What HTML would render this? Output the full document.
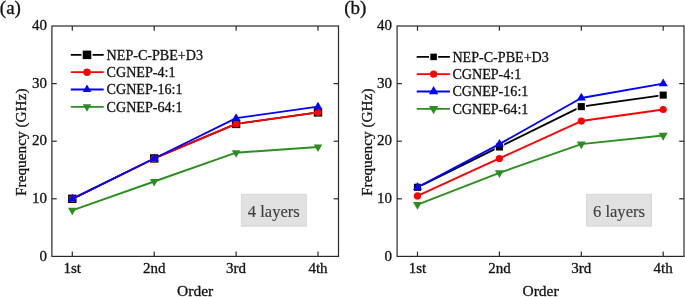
<!DOCTYPE html>
<html><head><meta charset="utf-8"><style>
html,body{margin:0;padding:0;background:#fff;width:685px;height:297px;overflow:hidden}
svg{display:block;will-change:transform}
text{font-family:"Liberation Serif", serif;stroke:#111;stroke-width:0.3px}
</style></head><body>
<svg width="685" height="297" viewBox="0 0 685 297" fill="#111">
<rect width="685" height="297" fill="#fff"/>
<polyline points="72.30,198.80 154.20,158.48 236.10,123.92 318.00,112.40" fill="none" stroke="#000" stroke-width="1.9" stroke-linejoin="round"/>
<rect x="66.90" y="193.40" width="10.80" height="10.80" fill="#fff"/><rect x="68.10" y="194.60" width="8.40" height="8.40" fill="#000"/>
<rect x="148.80" y="153.08" width="10.80" height="10.80" fill="#fff"/><rect x="150.00" y="154.28" width="8.40" height="8.40" fill="#000"/>
<rect x="230.70" y="118.52" width="10.80" height="10.80" fill="#fff"/><rect x="231.90" y="119.72" width="8.40" height="8.40" fill="#000"/>
<rect x="312.60" y="107.00" width="10.80" height="10.80" fill="#fff"/><rect x="313.80" y="108.20" width="8.40" height="8.40" fill="#000"/>
<polyline points="72.30,198.80 154.20,158.48 236.10,123.92 318.00,112.40" fill="none" stroke="#ff0000" stroke-width="1.9" stroke-linejoin="round"/>
<circle cx="72.30" cy="198.80" r="3.5" fill="#ff0000"/>
<circle cx="154.20" cy="158.48" r="3.5" fill="#ff0000"/>
<circle cx="236.10" cy="123.92" r="3.5" fill="#ff0000"/>
<circle cx="318.00" cy="112.40" r="3.5" fill="#ff0000"/>
<polyline points="72.30,198.80 154.20,158.48 236.10,118.16 318.00,106.64" fill="none" stroke="#0000ff" stroke-width="1.9" stroke-linejoin="round"/>
<polygon points="72.30,193.80 76.63,201.30 67.97,201.30" fill="#0000ff"/>
<polygon points="154.20,153.48 158.53,160.98 149.87,160.98" fill="#0000ff"/>
<polygon points="236.10,113.16 240.43,120.66 231.77,120.66" fill="#0000ff"/>
<polygon points="318.00,101.64 322.33,109.14 313.67,109.14" fill="#0000ff"/>
<polyline points="72.30,210.32 154.20,181.52 236.10,152.72 318.00,146.96" fill="none" stroke="#2b8f1f" stroke-width="1.9" stroke-linejoin="round"/>
<polygon points="72.30,215.32 76.63,207.82 67.97,207.82" fill="#2b8f1f"/>
<polygon points="154.20,186.52 158.53,179.02 149.87,179.02" fill="#2b8f1f"/>
<polygon points="236.10,157.72 240.43,150.22 231.77,150.22" fill="#2b8f1f"/>
<polygon points="318.00,151.96 322.33,144.46 313.67,144.46" fill="#2b8f1f"/>
<rect x="51.90" y="26.00" width="286.60" height="230.40" fill="none" stroke="#282828" stroke-width="1.2"/>
<line x1="72.30" y1="256.40" x2="72.30" y2="251.60" stroke="#282828" stroke-width="1.2"/>
<line x1="72.30" y1="26.00" x2="72.30" y2="30.80" stroke="#282828" stroke-width="1.2"/>
<line x1="154.20" y1="256.40" x2="154.20" y2="251.60" stroke="#282828" stroke-width="1.2"/>
<line x1="154.20" y1="26.00" x2="154.20" y2="30.80" stroke="#282828" stroke-width="1.2"/>
<line x1="236.10" y1="256.40" x2="236.10" y2="251.60" stroke="#282828" stroke-width="1.2"/>
<line x1="236.10" y1="26.00" x2="236.10" y2="30.80" stroke="#282828" stroke-width="1.2"/>
<line x1="318.00" y1="256.40" x2="318.00" y2="251.60" stroke="#282828" stroke-width="1.2"/>
<line x1="318.00" y1="26.00" x2="318.00" y2="30.80" stroke="#282828" stroke-width="1.2"/>
<line x1="51.90" y1="198.80" x2="56.70" y2="198.80" stroke="#282828" stroke-width="1.2"/>
<line x1="338.50" y1="198.80" x2="333.70" y2="198.80" stroke="#282828" stroke-width="1.2"/>
<line x1="51.90" y1="141.20" x2="56.70" y2="141.20" stroke="#282828" stroke-width="1.2"/>
<line x1="338.50" y1="141.20" x2="333.70" y2="141.20" stroke="#282828" stroke-width="1.2"/>
<line x1="51.90" y1="83.60" x2="56.70" y2="83.60" stroke="#282828" stroke-width="1.2"/>
<line x1="338.50" y1="83.60" x2="333.70" y2="83.60" stroke="#282828" stroke-width="1.2"/>
<text x="46.90" y="260.60" text-anchor="end" font-size="15">0</text>
<text x="46.90" y="203.00" text-anchor="end" font-size="15">10</text>
<text x="46.90" y="145.40" text-anchor="end" font-size="15">20</text>
<text x="46.90" y="87.80" text-anchor="end" font-size="15">30</text>
<text x="46.90" y="30.20" text-anchor="end" font-size="15">40</text>
<text x="72.30" y="272.5" text-anchor="middle" font-size="15">1st</text>
<text x="154.20" y="272.5" text-anchor="middle" font-size="15">2nd</text>
<text x="236.10" y="272.5" text-anchor="middle" font-size="15">3rd</text>
<text x="318.00" y="272.5" text-anchor="middle" font-size="15">4th</text>
<text x="195.20" y="296.3" text-anchor="middle" font-size="15.5">Order</text>
<text transform="translate(26.30,142.20) rotate(-90)" text-anchor="middle" font-size="15.3">Frequency (GHz)</text>
<text x="-0.20" y="13.7" font-size="19">(a)</text>
<line x1="70.80" y1="54.85" x2="103.70" y2="54.85" stroke="#000" stroke-width="1.8"/>
<rect x="81.45" y="49.30" width="11.10" height="11.10" fill="#fff"/><rect x="82.75" y="50.60" width="8.50" height="8.50" fill="#000"/>
<text x="106.60" y="59.75" font-size="14.1">NEP-C-PBE+D3</text>
<line x1="70.80" y1="72.17" x2="103.70" y2="72.17" stroke="#ff0000" stroke-width="1.8"/>
<circle cx="87.00" cy="72.17" r="3.75" fill="#ff0000"/>
<text x="106.60" y="77.07" font-size="14.1">CGNEP-4:1</text>
<line x1="70.80" y1="89.49" x2="103.70" y2="89.49" stroke="#0000ff" stroke-width="1.8"/>
<polygon points="87.00,84.59 91.24,91.94 82.76,91.94" fill="#0000ff"/>
<text x="106.60" y="94.39" font-size="14.1">CGNEP-16:1</text>
<line x1="70.80" y1="106.81" x2="103.70" y2="106.81" stroke="#2b8f1f" stroke-width="1.8"/>
<polygon points="87.00,111.71 91.24,104.36 82.76,104.36" fill="#2b8f1f"/>
<text x="106.60" y="111.71" font-size="14.1">CGNEP-64:1</text>
<rect x="241.40" y="194.3" width="64.9" height="31.9" fill="#e0e1e0" stroke="#d7d8d7" stroke-width="1"/>
<text x="273.80" y="216.9" text-anchor="middle" font-size="16.6" fill="#404040" style="stroke:#404040;stroke-width:0.15px">4 layers</text>
<polyline points="417.50,187.28 499.40,146.96 581.30,106.64 663.20,95.12" fill="none" stroke="#000" stroke-width="1.9" stroke-linejoin="round"/>
<rect x="412.75" y="182.53" width="9.50" height="9.50" fill="#fff"/><rect x="413.95" y="183.73" width="7.10" height="7.10" fill="#000"/>
<rect x="494.65" y="142.21" width="9.50" height="9.50" fill="#fff"/><rect x="495.85" y="143.41" width="7.10" height="7.10" fill="#000"/>
<rect x="576.55" y="101.89" width="9.50" height="9.50" fill="#fff"/><rect x="577.75" y="103.09" width="7.10" height="7.10" fill="#000"/>
<rect x="658.45" y="90.37" width="9.50" height="9.50" fill="#fff"/><rect x="659.65" y="91.57" width="7.10" height="7.10" fill="#000"/>
<polyline points="417.50,195.92 499.40,158.48 581.30,121.04 663.20,109.52" fill="none" stroke="#ff0000" stroke-width="1.9" stroke-linejoin="round"/>
<circle cx="417.50" cy="195.92" r="3.6" fill="#ff0000"/>
<circle cx="499.40" cy="158.48" r="3.6" fill="#ff0000"/>
<circle cx="581.30" cy="121.04" r="3.6" fill="#ff0000"/>
<circle cx="663.20" cy="109.52" r="3.6" fill="#ff0000"/>
<polyline points="417.50,187.28 499.40,144.08 581.30,98.00 663.20,83.60" fill="none" stroke="#0000ff" stroke-width="1.9" stroke-linejoin="round"/>
<polygon points="417.50,182.08 422.00,189.88 413.00,189.88" fill="#0000ff"/>
<polygon points="499.40,138.88 503.90,146.68 494.90,146.68" fill="#0000ff"/>
<polygon points="581.30,92.80 585.80,100.60 576.80,100.60" fill="#0000ff"/>
<polygon points="663.20,78.40 667.70,86.20 658.70,86.20" fill="#0000ff"/>
<polyline points="417.50,204.56 499.40,172.88 581.30,144.08 663.20,135.44" fill="none" stroke="#2b8f1f" stroke-width="1.9" stroke-linejoin="round"/>
<polygon points="417.50,209.76 422.00,201.96 413.00,201.96" fill="#2b8f1f"/>
<polygon points="499.40,178.08 503.90,170.28 494.90,170.28" fill="#2b8f1f"/>
<polygon points="581.30,149.28 585.80,141.48 576.80,141.48" fill="#2b8f1f"/>
<polygon points="663.20,140.64 667.70,132.84 658.70,132.84" fill="#2b8f1f"/>
<rect x="397.10" y="26.00" width="286.90" height="230.40" fill="none" stroke="#282828" stroke-width="1.2"/>
<line x1="417.50" y1="256.40" x2="417.50" y2="251.60" stroke="#282828" stroke-width="1.2"/>
<line x1="417.50" y1="26.00" x2="417.50" y2="30.80" stroke="#282828" stroke-width="1.2"/>
<line x1="499.40" y1="256.40" x2="499.40" y2="251.60" stroke="#282828" stroke-width="1.2"/>
<line x1="499.40" y1="26.00" x2="499.40" y2="30.80" stroke="#282828" stroke-width="1.2"/>
<line x1="581.30" y1="256.40" x2="581.30" y2="251.60" stroke="#282828" stroke-width="1.2"/>
<line x1="581.30" y1="26.00" x2="581.30" y2="30.80" stroke="#282828" stroke-width="1.2"/>
<line x1="663.20" y1="256.40" x2="663.20" y2="251.60" stroke="#282828" stroke-width="1.2"/>
<line x1="663.20" y1="26.00" x2="663.20" y2="30.80" stroke="#282828" stroke-width="1.2"/>
<line x1="397.10" y1="198.80" x2="401.90" y2="198.80" stroke="#282828" stroke-width="1.2"/>
<line x1="684.00" y1="198.80" x2="679.20" y2="198.80" stroke="#282828" stroke-width="1.2"/>
<line x1="397.10" y1="141.20" x2="401.90" y2="141.20" stroke="#282828" stroke-width="1.2"/>
<line x1="684.00" y1="141.20" x2="679.20" y2="141.20" stroke="#282828" stroke-width="1.2"/>
<line x1="397.10" y1="83.60" x2="401.90" y2="83.60" stroke="#282828" stroke-width="1.2"/>
<line x1="684.00" y1="83.60" x2="679.20" y2="83.60" stroke="#282828" stroke-width="1.2"/>
<text x="392.10" y="260.60" text-anchor="end" font-size="15">0</text>
<text x="392.10" y="203.00" text-anchor="end" font-size="15">10</text>
<text x="392.10" y="145.40" text-anchor="end" font-size="15">20</text>
<text x="392.10" y="87.80" text-anchor="end" font-size="15">30</text>
<text x="392.10" y="30.20" text-anchor="end" font-size="15">40</text>
<text x="417.50" y="272.5" text-anchor="middle" font-size="15">1st</text>
<text x="499.40" y="272.5" text-anchor="middle" font-size="15">2nd</text>
<text x="581.30" y="272.5" text-anchor="middle" font-size="15">3rd</text>
<text x="663.20" y="272.5" text-anchor="middle" font-size="15">4th</text>
<text x="540.55" y="296.3" text-anchor="middle" font-size="15.5">Order</text>
<text transform="translate(371.50,142.20) rotate(-90)" text-anchor="middle" font-size="15.3">Frequency (GHz)</text>
<text x="344.20" y="13.7" font-size="19">(b)</text>
<line x1="416.70" y1="56.90" x2="449.90" y2="56.90" stroke="#000" stroke-width="1.8"/>
<rect x="429.05" y="52.35" width="9.10" height="9.10" fill="#fff"/><rect x="430.35" y="53.65" width="6.50" height="6.50" fill="#000"/>
<text x="452.40" y="61.80" font-size="14.1">NEP-C-PBE+D3</text>
<line x1="416.70" y1="74.20" x2="449.90" y2="74.20" stroke="#ff0000" stroke-width="1.8"/>
<circle cx="433.60" cy="74.20" r="3.6" fill="#ff0000"/>
<text x="452.40" y="79.10" font-size="14.1">CGNEP-4:1</text>
<line x1="416.70" y1="91.50" x2="449.90" y2="91.50" stroke="#0000ff" stroke-width="1.8"/>
<polygon points="433.60,86.10 438.28,94.20 428.92,94.20" fill="#0000ff"/>
<text x="452.40" y="96.40" font-size="14.1">CGNEP-16:1</text>
<line x1="416.70" y1="108.80" x2="449.90" y2="108.80" stroke="#2b8f1f" stroke-width="1.8"/>
<polygon points="433.60,114.20 438.28,106.10 428.92,106.10" fill="#2b8f1f"/>
<text x="452.40" y="113.70" font-size="14.1">CGNEP-64:1</text>
<rect x="586.60" y="194.3" width="64.9" height="31.9" fill="#e0e1e0" stroke="#d7d8d7" stroke-width="1"/>
<text x="619.00" y="216.9" text-anchor="middle" font-size="16.6" fill="#404040" style="stroke:#404040;stroke-width:0.15px">6 layers</text>
</svg>
</body></html>
